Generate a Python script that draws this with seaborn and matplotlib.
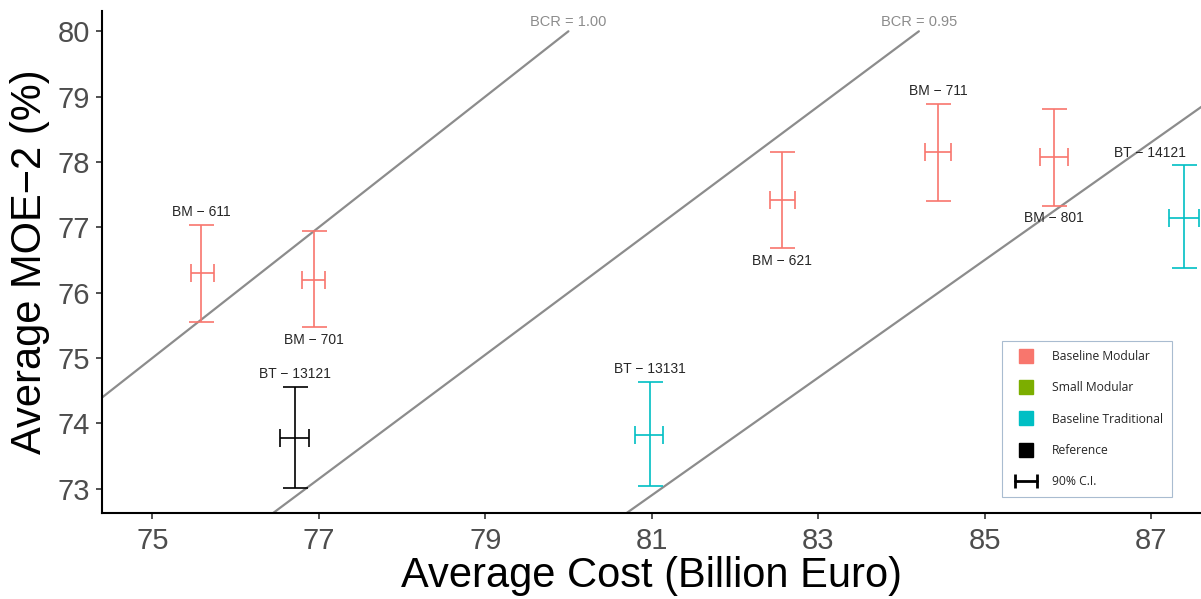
import numpy as np
import pandas as pd
import matplotlib
matplotlib.use("Agg")
import matplotlib.pyplot as plt
from matplotlib.lines import Line2D
from matplotlib.legend_handler import HandlerLine2D
import seaborn as sns

# values
names = ["BM − 611", "BM − 701", "BT − 13121", "BT − 13131",
         "BM − 621", "BM − 711", "BM − 801", "BT − 14121"]
groups = ["Baseline Modular", "Baseline Modular", "Reference", "Baseline Traditional",
          "Baseline Modular", "Baseline Modular", "Baseline Modular", "Baseline Traditional"]
cost = [75.59, 76.94, 76.71, 80.98, 82.56, 84.44, 85.83, 87.39]
cost_lo = [75.46, 76.80, 76.54, 80.80, 82.42, 84.29, 85.67, 87.22]
cost_hi = [75.74, 77.08, 76.88, 81.14, 82.72, 84.60, 86.00, 87.57]
moe = [76.30, 76.20, 73.77, 73.83, 77.42, 78.15, 78.07, 77.15]
moe_lo = [75.55, 75.47, 73.01, 73.04, 76.68, 77.40, 77.33, 76.38]
moe_hi = [77.04, 76.95, 74.56, 74.64, 78.15, 78.89, 78.81, 77.95]
label_side = ["above", "below", "above", "above", "below", "above", "below", "above"]
label_dx = [0, 0, 0, 0, 0, 0, 0, -24]

bcr = [1.00, 0.95, 0.90]

legend_groups = ["Baseline Modular", "Small Modular", "Baseline Traditional", "Reference"]
palette = {"Baseline Modular": "#F8766D", "Small Modular": "#7CAE00",
           "Baseline Traditional": "#00BFC4", "Reference": "#000000"}

df = pd.DataFrame({"name": names, "group": groups, "cost": cost, "cost_lo": cost_lo,
                   "cost_hi": cost_hi, "moe": moe, "moe_lo": moe_lo, "moe_hi": moe_hi})

sns.set_style("ticks")
plt.rcParams["font.family"] = ["Liberation Sans", "DejaVu Sans"]

fig = plt.figure(figsize=(12.01, 5.99), dpi=100)
ax = fig.add_axes([0.0852, 0.1436, 0.9148, 0.838])

# BCR reference lines y = bcr * x, ending at MOE = 80
for b in bcr:
    xs = np.array([70.0, 80.0 / b])
    line_df = pd.DataFrame({"x": xs, "y": b * xs})
    sns.lineplot(data=line_df, x="x", y="y", ax=ax, color="#8C8C8C", lw=1.6,
                 zorder=1, legend=False)
    ax.annotate(f"BCR = {b:.2f}", (80.0 / b, 80.0), xytext=(0, 2), textcoords="offset points",
                ha="center", va="bottom", fontsize=10.5, color="#8C8C8C",
                annotation_clip=True)

for _, r in df.iterrows():
    c = palette[r["group"]]
    ax.errorbar(r["cost"], r["moe"], yerr=[[r["moe"] - r["moe_lo"]], [r["moe_hi"] - r["moe"]]],
                fmt="none", ecolor=c, elinewidth=1.2, capsize=9, capthick=1.2, zorder=3)
    ax.errorbar(r["cost"], r["moe"], xerr=[[r["cost"] - r["cost_lo"]], [r["cost_hi"] - r["cost"]]],
                fmt="none", ecolor=c, elinewidth=1.2, capsize=6.5, capthick=1.2, zorder=3)

for i, r in df.iterrows():
    if label_side[i] == "above":
        ax.annotate(r["name"], (r["cost"], r["moe_hi"]), xytext=(label_dx[i], 4),
                    textcoords="offset points", ha="center", va="bottom", fontsize=10)
    else:
        ax.annotate(r["name"], (r["cost"], r["moe_lo"]), xytext=(label_dx[i], -4),
                    textcoords="offset points", ha="center", va="top", fontsize=10)

ax.set_xlim(74.40, 87.60)
ax.set_ylim(72.63, 80.31)
ax.set_xticks([75, 77, 79, 81, 83, 85, 87])
ax.set_yticks([73, 74, 75, 76, 77, 78, 79, 80])
ax.tick_params(axis="both", labelsize=21, labelcolor="#4D4D4D", color="#333333",
               length=4, width=1.2)
ax.tick_params(axis="x", pad=6)
ax.tick_params(axis="y", pad=5)
for s in ["top", "right"]:
    ax.spines[s].set_visible(False)
for s in ["left", "bottom"]:
    ax.spines[s].set_color("black")
    ax.spines[s].set_linewidth(1.5)
ax.set_xlabel("Average Cost (Billion Euro)", fontsize=30, labelpad=1, color="black")
ax.set_ylabel("Average MOE−2 (%)", fontsize=30, labelpad=5, color="black")

handles = [Line2D([], [], marker="s", linestyle="none", markersize=10,
                  color=palette[g], markeredgecolor=palette[g]) for g in legend_groups]
ci = Line2D([0, 1], [0, 0], color="black", lw=2, marker="|", markersize=10, mew=2)
handles.append(ci)
labels = legend_groups + ["90% C.I."]
leg = ax.legend(handles, labels, loc="lower left", bbox_to_anchor=(0.819, 0.032),
                borderaxespad=0, frameon=True, fancybox=False, edgecolor="#A9BCD0",
                framealpha=1, prop={"family": "Open Sans", "size": 8.7}, labelspacing=1.5,
                handlelength=2.4, handletextpad=1.0, borderpad=0.75,
                handler_map={ci: HandlerLine2D(numpoints=2)})
leg.get_frame().set_linewidth(0.8)

fig.savefig("out.png", dpi=100)
